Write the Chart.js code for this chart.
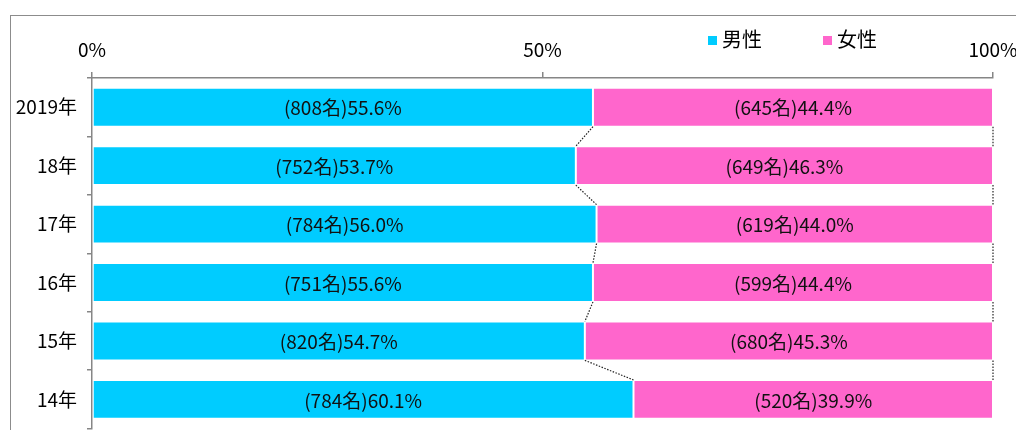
<!DOCTYPE html>
<html><head><meta charset="utf-8">
<script src="https://cdn.jsdelivr.net/npm/chart.js@4"></script>
<style>
html,body{margin:0;padding:0;width:1016px;height:430px;overflow:hidden;background:#fff}
#frame{position:absolute;left:10px;top:15px;width:1100px;height:500px;border-left:1.5px solid #8c8c8c;border-top:1.5px solid #8c8c8c;box-sizing:border-box}
#c{position:absolute;left:0;top:0}
.lg{position:absolute;top:25px;font:20px 'Noto Sans CJK JP',sans-serif;color:#000;line-height:28px;white-space:nowrap}
.sq{display:inline-block;width:9px;height:9px;margin-right:5px;vertical-align:2px}
</style>
</head><body>
<div id="frame"></div>
<canvas id="c" width="1016" height="450"></canvas>
<div class="lg" style="left:708px"><span class="sq" style="background:#00CCFF"></span>男性</div>
<div class="lg" style="left:823px"><span class="sq" style="background:#FF66CC"></span>女性</div>
<script>
const categories = ['2019年','18年','17年','16年','15年','14年'];
const maleCounts = [808,752,784,751,820,784];
const malePct = [55.6,53.7,56.0,55.6,54.7,60.1];
const femaleCounts = [645,649,619,599,680,520];
const femalePct = [44.4,46.3,44.0,44.4,45.3,39.9];
const xTickValues = [0,50,100];
const seriesNames = ['男性','女性'];

const FONT = "'Noto Sans CJK JP', sans-serif";

const labelPlugin = {
  id:'segLabels',
  afterDatasetsDraw(chart){
    const ctx = chart.ctx;
    ctx.save();
    ctx.font = '19px ' + FONT;
    ctx.fillStyle = '#111';
    ctx.textAlign = 'center';
    ctx.textBaseline = 'middle';
    const counts = [maleCounts, femaleCounts];
    const pcts = [malePct, femalePct];
    chart.data.datasets.forEach((ds, di) => {
      const meta = chart.getDatasetMeta(di);
      meta.data.forEach((el, i) => {
        const p = el.getProps(['x','base','y'], true);
        const cx = (p.x + p.base) / 2;
        ctx.fillText('(' + counts[di][i] + '名)' + pcts[di][i].toFixed(1) + '%', cx, p.y + 1);
      });
    });
    ctx.restore();
  }
};

const seriesLinePlugin = {
  id:'seriesLines',
  afterDatasetsDraw(chart){
    const ctx = chart.ctx;
    const m0 = chart.getDatasetMeta(0).data;
    const m1 = chart.getDatasetMeta(1).data;
    ctx.save();
    ctx.strokeStyle = '#222';
    ctx.lineWidth = 1.2;
    ctx.setLineDash([1.5,1.5]);
    for (let i = 0; i < m0.length - 1; i++) {
      const a = m0[i].getProps(['x','y','height'], true);
      const b = m0[i+1].getProps(['x','y','height'], true);
      const a2 = m1[i].getProps(['x','y','height'], true);
      const b2 = m1[i+1].getProps(['x','y','height'], true);
      ctx.beginPath();
      ctx.moveTo(a.x, a.y + a.height/2);
      ctx.lineTo(b.x, b.y - b.height/2);
      ctx.moveTo(a2.x, a2.y + a2.height/2);
      ctx.lineTo(b2.x, b2.y - b2.height/2);
      ctx.stroke();
    }
    ctx.restore();
  }
};

new Chart(document.getElementById('c'), {
  type:'bar',
  data:{
    labels: categories,
    datasets:[
      {label: seriesNames[0], data: malePct, backgroundColor:'#00CCFF', borderColor:'rgba(255,255,255,0.85)', borderWidth:1, borderSkipped:false, barPercentage:0.665, categoryPercentage:1},
      {label: seriesNames[1], data: femalePct, backgroundColor:'#FF66CC', borderColor:'rgba(255,255,255,0.85)', borderWidth:1, borderSkipped:false, barPercentage:0.665, categoryPercentage:1}
    ]
  },
  options:{
    indexAxis:'y',
    responsive:false,
    animation:false,
    layout:{padding:{left:0, top:0, right:23, bottom:16}},
    plugins:{legend:{display:false}, tooltip:{enabled:false}},
    scales:{
      x:{
        position:'top', stacked:true, min:0, max:100,
        afterBuildTicks(s){ s.ticks = xTickValues.map(v => ({value:v})); },
        ticks:{callback:v => v + '%', font:{family:FONT, size:19}, color:'#000', padding:11, maxRotation:0},
        grid:{drawOnChartArea:false, tickLength:6, color:'#868686', lineWidth:1.5},
        border:{color:'#868686', width:1.5},
        afterFit(s){ s.height = 78; s.paddingRight = 0; }
      },
      y:{
        stacked:true,
        ticks:{font:{family:FONT, size:19}, color:'#000', padding:10},
        grid:{offset:true, drawOnChartArea:false, tickLength:5, color:'#868686', lineWidth:1.5},
        border:{color:'#868686', width:1.5},
        afterFit(s){ s.width = 92; }
      }
    }
  },
  plugins:[labelPlugin, seriesLinePlugin]
});
</script>
</body></html>
